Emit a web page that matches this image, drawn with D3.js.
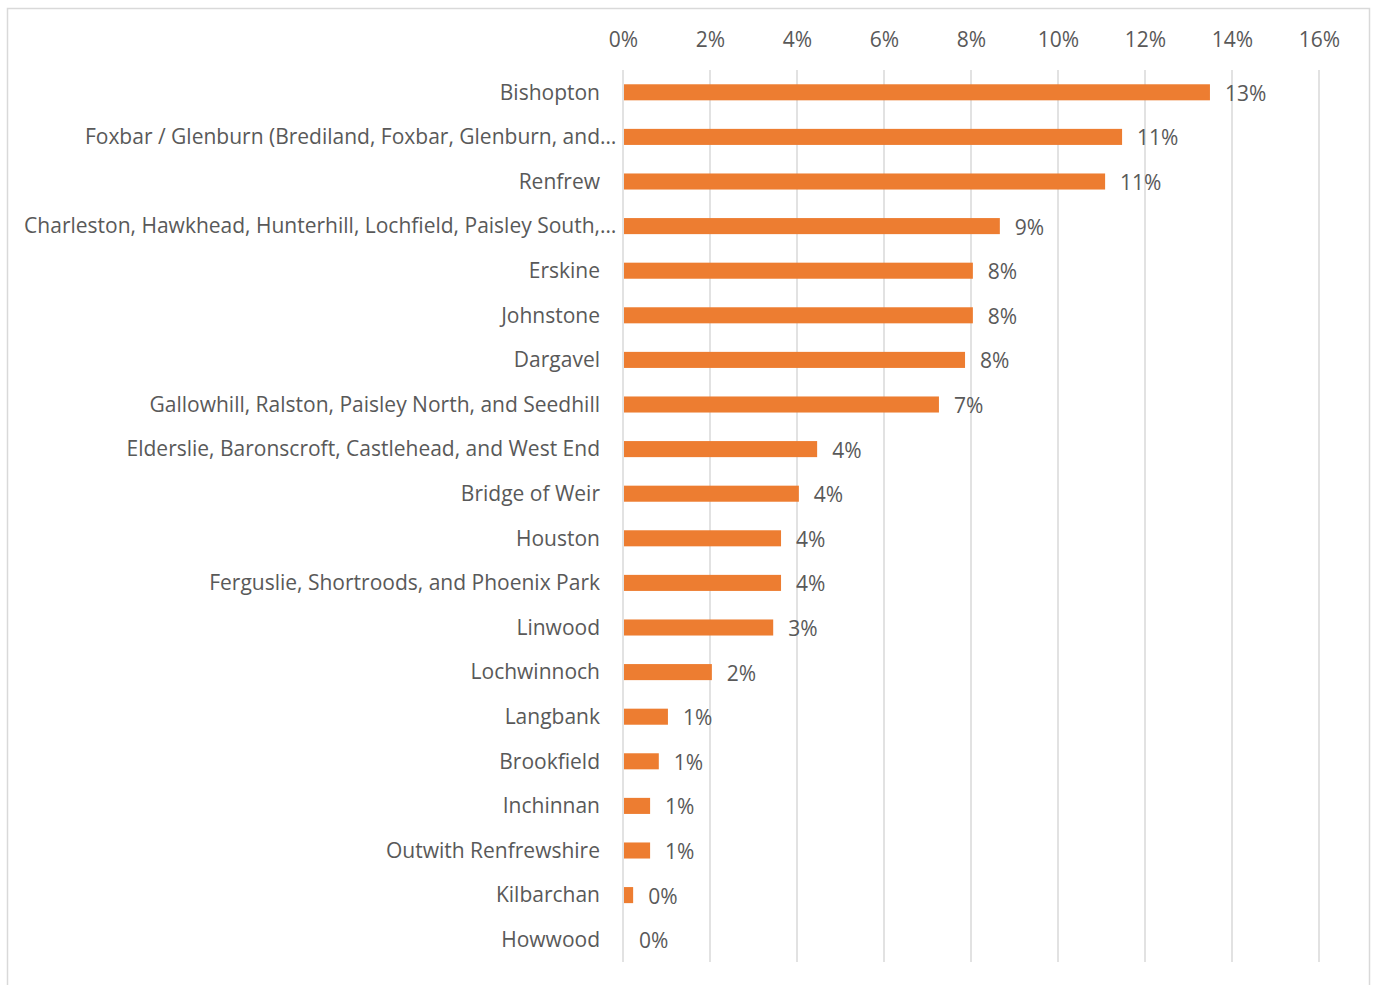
<!DOCTYPE html>
<html><head><meta charset="utf-8">
<script src="https://cdn.jsdelivr.net/npm/d3@7"></script>
<style>
html,body{margin:0;padding:0;background:#fff;}
svg{display:block;}
</style></head>
<body>
<script>
const categories = [
  "Bishopton",
  "Foxbar / Glenburn (Brediland, Foxbar, Glenburn, and…",
  "Renfrew",
  "Charleston, Hawkhead, Hunterhill, Lochfield, Paisley South,…",
  "Erskine",
  "Johnstone",
  "Dargavel",
  "Gallowhill, Ralston, Paisley North, and Seedhill",
  "Elderslie, Baronscroft, Castlehead, and West End",
  "Bridge of Weir",
  "Houston",
  "Ferguslie, Shortroods, and Phoenix Park",
  "Linwood",
  "Lochwinnoch",
  "Langbank",
  "Brookfield",
  "Inchinnan",
  "Outwith Renfrewshire",
  "Kilbarchan",
  "Howwood"
];
const values = [0.1347, 0.1145, 0.1106, 0.0864, 0.0802, 0.0802, 0.0784, 0.0724, 0.0444, 0.0402, 0.0361, 0.0361, 0.0343, 0.0202, 0.0101, 0.0080, 0.0060, 0.0060, 0.0021, 0.0];
const tickValues = [0, 0.02, 0.04, 0.06, 0.08, 0.10, 0.12, 0.14, 0.16];

const W = 1376, H = 985;
const FONT = "'Open Sans', sans-serif";
const FS = 21;
const TEXT = "#595959";
const svg = d3.select("body").append("svg").attr("width", W).attr("height", H);

// chart border
svg.append("rect").attr("x", 7.5).attr("y", 8.5).attr("width", 1362).attr("height", 990)
  .attr("fill", "none").attr("stroke", "#d9d9d9").attr("stroke-width", 1.5);

const x = d3.scaleLinear().domain([0, 0.16]).range([623, 1319]);
const y = d3.scaleBand().domain(categories).range([70, 962]).paddingInner(0.64).paddingOuter(0.32);

// gridlines
svg.append("g").selectAll("line").data(tickValues).join("line")
  .attr("x1", d => x(d)).attr("x2", d => x(d)).attr("y1", 70).attr("y2", 962)
  .attr("stroke", "#d9d9d9").attr("stroke-width", 1.5);

// top axis labels
const axis = d3.axisTop(x).tickValues(tickValues).tickFormat(d3.format(".0%")).tickSize(0).tickPadding(0);
const ax = svg.append("g").attr("transform", "translate(0,47)").call(axis);
ax.select(".domain").remove();
ax.selectAll("text").attr("font-family", FONT).attr("font-size", FS).attr("fill", TEXT);

// bars
svg.append("g").selectAll("rect").data(values).join("rect")
  .attr("x", x(0) + 1).attr("y", (d, i) => y(categories[i]))
  .attr("width", d => Math.max(0, x(d) - x(0))).attr("height", y.bandwidth())
  .attr("fill", "#ED7D31");

// category labels (truncated labels overhang by the ellipsis width)
const labels = svg.append("g").selectAll("text").data(categories).join("text")
  .attr("x", 600).attr("y", d => y(d) + y.bandwidth() / 2)
  .attr("dy", "0.35em").attr("text-anchor", "end")
  .attr("font-family", FONT).attr("font-size", FS).attr("fill", TEXT)
  .text(d => d);
const probe = svg.append("text").attr("font-family", FONT).attr("font-size", FS).text("…");
const ellW = probe.node().getComputedTextLength();
probe.remove();
labels.filter(d => d.endsWith("…")).attr("x", 600 + ellW);

// value labels
svg.append("g").selectAll("text").data(values).join("text")
  .attr("x", d => x(d) + 16).attr("y", (d, i) => y(categories[i]) + y.bandwidth() / 2)
  .attr("dy", "0.4em")
  .attr("font-family", FONT).attr("font-size", FS).attr("fill", TEXT)
  .text(d => d3.format(".0%")(d));
</script>
</body></html>
